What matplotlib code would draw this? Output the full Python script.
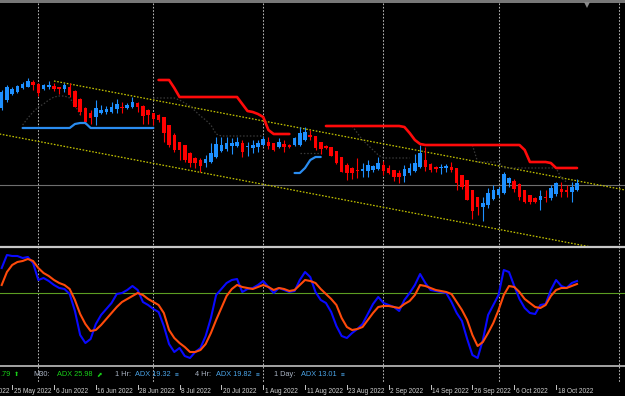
import numpy as np
import matplotlib
matplotlib.use("Agg")
import matplotlib.pyplot as plt

W, H = 625, 396
X0 = 1.7        # pixel position of the first bar
BAR_W = 5.23    # pixels per bar

# daily candles, price in points
opens = [192, 200, 206, 208, 212, 213, 218, 216, 211, 213,
         214, 213, 211, 213, 209, 201, 192, 187, 183, 187,
         188, 188, 191, 193, 192, 193, 197, 194, 190, 187,
         185, 183, 175, 165, 158, 155, 147, 142, 140, 137,
         138, 143, 149, 151, 154, 154, 157, 153, 152, 153,
         155, 158, 157, 153, 156, 155, 155, 155, 160, 165,
         164, 158, 154, 153, 149, 143, 135, 132, 130, 129,
         129, 130, 131, 135, 132, 130, 127, 124, 127, 129,
         133, 140, 136, 133, 132, 132, 133, 132, 125, 120,
         110, 103, 93, 95, 101, 105, 107, 117, 119, 116,
         110, 105, 102, 100, 103, 102, 106, 111, 110, 108, 110]
highs = [210, 215, 213, 215, 218, 222, 220, 217, 216, 219,
         217, 213, 217, 217, 210, 202, 193, 190, 200, 195,
         194, 198, 201, 198, 197, 203, 198, 195, 191, 187,
         186, 183, 175, 167, 158, 155, 148, 143, 142, 145,
         157, 163, 163, 163, 162, 163, 160, 158, 160, 160,
         164, 163, 157, 162, 160, 156, 163, 173, 173, 170,
         164, 158, 155, 153, 149, 143, 137, 133, 142, 137,
         140, 135, 143, 139, 135, 130, 130, 135, 137, 146,
         155, 153, 137, 134, 136, 136, 138, 132, 125, 120,
         110, 103, 103, 112, 115, 113, 128, 123, 121, 117,
         110, 105, 103, 110, 110, 115, 118, 118, 115, 118, 121]
lows = [190, 198, 205, 207, 211, 213, 210, 204, 210, 211,
        209, 206, 208, 203, 193, 185, 176, 176, 175, 186,
        186, 187, 187, 187, 191, 192, 188, 176, 176, 175,
        178, 158, 153, 148, 140, 138, 133, 132, 128, 133,
        137, 142, 148, 149, 146, 153, 143, 144, 147, 148,
        154, 151, 149, 152, 148, 152, 154, 154, 159, 160,
        150, 146, 151, 144, 136, 128, 120, 121, 122, 123,
        123, 128, 130, 125, 126, 119, 117, 118, 125, 128,
        132, 129, 128, 128, 126, 128, 128, 110, 111, 100,
        81, 85, 79, 92, 100, 103, 106, 113, 108, 100,
        97, 96, 97, 90, 98, 100, 104, 103, 103, 98, 109]
closes = [208, 213, 211, 214, 216, 219, 215, 207, 215, 215,
          211, 211, 215, 205, 193, 188, 178, 182, 192, 190,
          191, 193, 196, 192, 195, 198, 193, 184, 185, 181,
          180, 167, 155, 150, 150, 140, 137, 137, 134, 141,
          147, 156, 155, 157, 157, 158, 148, 154, 155, 157,
          161, 154, 150, 158, 153, 153, 162, 167, 168, 163,
          152, 151, 152, 144, 137, 128, 127, 127, 129, 131,
          135, 134, 137, 129, 127, 123, 123, 131, 132, 137,
          147, 133, 130, 131, 133, 134, 130, 117, 113, 100,
          89, 93, 97, 107, 110, 111, 126, 122, 111, 103,
          98, 98, 98, 104, 102, 112, 117, 108, 108, 113, 117]

# trailing stops: (first bar, values)
red_stop_a = (30, [220, 220, 220, 212, 203, 203, 203, 203, 203, 203, 203, 203,
                   203, 203, 203, 203, 196, 189, 188, 186, 183, 170, 166, 166,
                   166, 166])
red_stop_b = (62, [174, 174, 174, 174, 174, 174, 174, 174, 174, 174, 174, 174,
                   174, 174, 174, 173, 167, 160, 156, 155, 155, 155, 155, 155,
                   155, 155, 155, 155, 155, 155, 155, 155, 155, 155, 155, 155,
                   155, 155, 150, 138, 138, 138, 138, 137, 132, 132, 132, 132,
                   132])
blue_stop_a = (4, [172, 172, 172, 172, 172, 172, 172, 172, 172, 172, 176, 177,
                   177, 172, 172, 172, 172, 172, 172, 172, 172, 172, 172, 172,
                   172, 172])
blue_stop_b = (56, [127, 127, 132, 140, 143, 143])
ghost_stops = [
    (4, [175, 182, 188, 193, 196, 200, 203, 204, 204, 202, 195, 185]),
    (29, [202, 202, 202, 202, 202, 200, 197, 194, 189, 184, 180, 175, 166,
          164, 164, 164, 164, 164, 164, 164, 164, 164]),
    (57, [147, 147, 147, 147, 147]),
    (67, [174, 167, 160, 155, 150, 145, 142, 142, 142, 142, 142, 142]),
    (90, [155, 138, 138, 138, 138, 138, 132, 132, 132, 132, 132, 132, 132,
          132, 132, 132, 132, 122, 118]),
]
channel_upper = [(10, 219), (119.2, 110)]
channel_lower = [(-0.4, 166), (119.2, 46.5)]
price_line = 115

# oscillator
osc_fast = [25, 38, 37, 37, 35, 36, 30, 13, 15, 12,
            8, 5, 4, -1, -18, -42, -50, -46, -31, -22,
            -16, -10, -1, 0, 3, 7, 3, -9, -12, -16,
            -19, -33, -51, -59, -55, -63, -65, -59, -55, -43,
            -25, -2, 4, 10, 13, 14, 1, 4, 5, 8,
            12, 6, 0, 5, 3, 1, 2, 13, 21, 16,
            1, -7, -10, -19, -33, -43, -45, -40, -36, -31,
            -21, -11, -4, -10, -12, -14, -18, -7, 0, 8,
            19, 10, 3, 2, 1, 0, -9, -20, -28, -46,
            -62, -65, -47, -22, -12, -2, 23, 21, 7, -6,
            -15, -20, -21, -12, -11, 3, 13, 7, 5, 10, 12]
osc_slow = [8, 21, 28, 31, 32, 34, 32, 25, 20, 17,
            13, 10, 8, 4, -7, -21, -31, -38, -37, -32,
            -26, -20, -14, -9, -6, -3, 0, -2, -6, -9,
            -12, -20, -37, -45, -50, -54, -59, -59, -57, -51,
            -40, -27, -15, -3, 4, 8, 6, 5, 4, 6,
            8, 6, 3, 5, 4, 2, 3, 8, 13, 12,
            10, 4, -1, -6, -12, -25, -34, -37, -36, -34,
            -27, -20, -14, -13, -13, -14, -15, -11, -8, -2,
            8, 7, 5, 3, 2, 1, -1, -9, -17, -27,
            -42, -53, -49, -40, -30, -17, -2, 7, 6, 1,
            -6, -10, -14, -15, -12, -3, 3, 5, 5, 7, 9]

month_bars = [7, 29, 50, 73, 95, 118]
date_bars = [-6, 2, 10, 18, 26, 34, 42, 50, 58, 66, 74, 82, 90, 98, 106]
date_labels = ["13 May 2022", "25 May 2022", "6 Jun 2022", "16 Jun 2022",
               "28 Jun 2022", "8 Jul 2022", "20 Jul 2022", "1 Aug 2022",
               "11 Aug 2022", "23 Aug 2022", "2 Sep 2022", "14 Sep 2022",
               "26 Sep 2022", "6 Oct 2022", "18 Oct 2022"]

timeframes = ["M30:", "1 Hr:", "4 Hr:", "1 Day:"]
adx_values = [25.98, 19.32, 19.82, 13.01]

UP, DOWN = "#1e90ff", "#ff0000"
FONT = ["Liberation Sans", "DejaVu Sans"]


def bar_px(i):
    return X0 + i * BAR_W


def segment(ax, seg, **kw):
    start, vals = seg
    ax.plot(np.arange(start, start + len(vals)), vals, **kw)


def draw_candles(ax):
    o, h, l, c = map(np.array, (opens, highs, lows, closes))
    idx = np.arange(len(o))
    cols = np.where(c >= o, UP, DOWN)
    ax.vlines(idx, l, h, colors=cols, lw=0.8, zorder=3)
    body = np.maximum(np.abs(c - o), 0.8)
    ax.bar(idx, body, bottom=np.minimum(o, c), width=0.68, color=cols,
           linewidth=0, zorder=4)


def main():
    plt.rcParams['font.family'] = FONT
    fig = plt.figure(figsize=(W / 100, H / 100), dpi=100, facecolor="black")
    xlim = ((0 - X0) / BAR_W, (W - X0) / BAR_W)

    # background layer in pixel coordinates
    bg = fig.add_axes([0, 0, 1, 1], zorder=0)
    bg.set_xlim(0, W)
    bg.set_ylim(H, 0)
    bg.set_facecolor("black")
    bg.set_axis_off()
    for m in month_bars:
        bg.plot([bar_px(m)] * 2, [3, 383], color="#b4b4b4", lw=0.75,
                ls=(0, (1.6, 1.6)))
    bg.axhspan(0, 3, color="#777777", lw=0)
    bg.axhline(247, color="#c8c8c8", lw=1.6)
    bg.axhline(366, color="#c0c0c0", lw=1.2)
    bg.plot([587], [4.5], marker="v", ms=4, color="#8a8a8a", mew=0)
    for b, lab in zip(date_bars, date_labels):
        px = bar_px(b)
        bg.plot([px, px], [385, 389], color="#c8c8c8", lw=0.7)
        bg.text(px + 1.5, 391.5, lab, color="#d2d2d2", fontsize=4.7,
                va="center", ha="left")

    # status line
    green, gray, lblue = "#18d018", "#aab4c4", "#4aa3e6"
    y_st = 375
    bg.text(0.5, y_st, ".79", color=green, fontsize=5.3, va="center")
    bg.text(14, y_st, "\u2b06", color=green, fontsize=4.5, va="center")
    tf_x = [33, 115, 195, 274]
    adx_x = [57, 135, 216, 301]
    for k in range(4):
        col = green if k == 0 else lblue
        bg.text(tf_x[k], y_st, timeframes[k], color=gray, fontsize=5.3,
                va="center")
        t = bg.text(adx_x[k], y_st, "ADX %.2f" % adx_values[k], color=col,
                    fontsize=5.3, va="center")
        sym = "\u2b08" if k == 0 else "\u2261"
        bg.text(adx_x[k] + 39.5, y_st, sym, color=col, fontsize=4.8,
                va="center")

    # main price panel
    ax = fig.add_axes([0, (H - 246) / H, 1, 243 / H], zorder=1)
    ax.set_xlim(*xlim)
    ax.set_ylim(300 - 246, 300 - 3)
    ax.set_facecolor("none")
    ax.set_axis_off()

    ax.axhline(price_line, color="#6e6e6e", lw=0.8, zorder=1)
    for ch in (channel_upper, channel_lower):
        (xa, ya), (xb, yb) = ch
        ax.plot([xa, xb], [ya, yb], color="#c4c400", lw=0.9,
                ls=(0, (1.3, 1.3)), zorder=2)
    for g in ghost_stops:
        segment(ax, g, color="#3a3a3a", lw=0.9, ls=(0, (1.2, 1.5)), zorder=2)
    draw_candles(ax)
    for s in (red_stop_a, red_stop_b):
        segment(ax, s, color="#ff0a0a", lw=1.9, solid_capstyle="round",
                zorder=5)
    for s in (blue_stop_a, blue_stop_b):
        segment(ax, s, color="#2a8cf0", lw=1.6, solid_capstyle="round",
                zorder=5)

    # oscillator panel
    ax2 = fig.add_axes([0, (H - 365) / H, 1, 117 / H], zorder=1)
    ax2.set_xlim(*xlim)
    ax2.set_ylim(293 - 365, 293 - 248)
    ax2.set_facecolor("none")
    ax2.set_axis_off()
    idx = np.arange(len(osc_fast))
    ax2.axhline(0, color="#5c9e22", lw=0.8)
    ax2.plot(idx, osc_fast, color="#0a0aff", lw=1.5)
    ax2.plot(idx, osc_slow, color="#ff4a0a", lw=1.5)

    fig.savefig("out.png", dpi=100, facecolor="black")


if __name__ == "__main__":
    main()
